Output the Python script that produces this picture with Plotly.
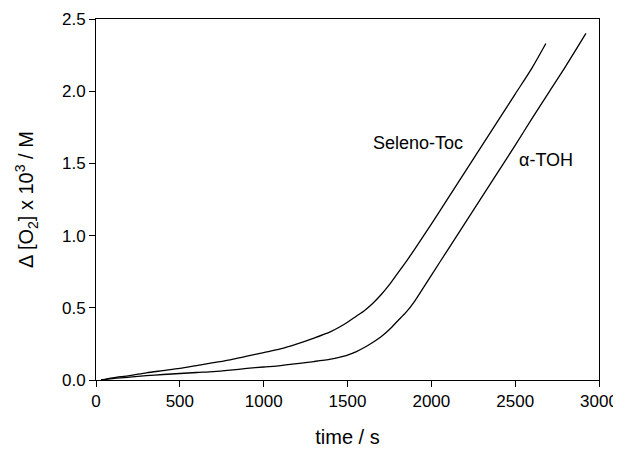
import plotly.graph_objects as go

# oxygen uptake curves
t_seleno = [30, 100, 200, 300, 400, 500, 600, 700, 800, 900, 1000, 1100, 1200, 1300,
            1400, 1450, 1500, 1550, 1600, 1650, 1700, 1750, 1800, 1850, 1900, 2000,
            2100, 2200, 2300, 2400, 2500, 2600, 2683]
o2_seleno = [0.0, 0.015, 0.03, 0.05, 0.065, 0.08, 0.1, 0.12, 0.14, 0.165, 0.19, 0.215, 0.25, 0.29,
             0.335, 0.365, 0.40, 0.44, 0.48, 0.53, 0.59, 0.66, 0.74, 0.82, 0.905, 1.08,
             1.26, 1.44, 1.62, 1.80, 1.98, 2.16, 2.33]

t_toh = [30, 100, 200, 300, 400, 500, 600, 700, 800, 900, 1000, 1100, 1200, 1300, 1400,
         1450, 1500, 1550, 1600, 1650, 1700, 1750, 1800, 1850, 1900, 1950, 2000,
         2100, 2200, 2300, 2400, 2500, 2600, 2700, 2800, 2922]
o2_toh = [0.0, 0.01, 0.02, 0.03, 0.038, 0.045, 0.052, 0.058, 0.068, 0.08, 0.09, 0.1, 0.113, 0.128, 0.145,
          0.157, 0.172, 0.195, 0.225, 0.26, 0.30, 0.35, 0.41, 0.47, 0.545, 0.635, 0.725,
          0.905, 1.085, 1.265, 1.445, 1.625, 1.81, 1.99, 2.17, 2.40]

fnt = "Liberation Sans, Arial, sans-serif"

fig = go.Figure()
fig.add_trace(go.Scatter(x=t_seleno, y=o2_seleno, mode="lines",
                         line=dict(color="black", width=1.3, shape="spline", smoothing=0.8)))
fig.add_trace(go.Scatter(x=t_toh, y=o2_toh, mode="lines",
                         line=dict(color="black", width=1.3, shape="spline", smoothing=0.8)))

fig.add_annotation(x=1923, y=1.64, text="Seleno-Toc", showarrow=False,
                   font=dict(family=fnt, size=18, color="black"))
fig.add_annotation(x=2686, y=1.525, text="α-TOH", showarrow=False,
                   font=dict(family=fnt, size=18, color="black"))

# page body adds 8px around the figure, so size/margins are trimmed to match
fig.update_layout(
    width=613, height=445,
    margin=dict(l=88, r=22, t=11, b=73),
    plot_bgcolor="white", paper_bgcolor="white",
    showlegend=False,
    font=dict(family=fnt, size=17, color="black"),
)
fig.update_xaxes(
    range=[0, 3000], tickvals=[0, 500, 1000, 1500, 2000, 2500, 3000],
    ticks="outside", ticklen=6, tickcolor="black", showgrid=False, zeroline=False,
    showline=True, linecolor="black", linewidth=1, mirror=True, automargin=False,
    tickfont=dict(size=17), ticklabeloverflow="allow",
    title=dict(text="time / s", font=dict(size=20), standoff=19),
)
fig.update_yaxes(
    range=[0, 2.5], tickvals=[0, 0.5, 1.0, 1.5, 2.0, 2.5], tickformat=".1f",
    ticks="outside", ticklen=6, tickcolor="black", showgrid=False, zeroline=False,
    showline=True, linecolor="black", linewidth=1, mirror=True, automargin=False,
    tickfont=dict(size=17), ticklabeloverflow="allow",
    title=dict(text="Δ [O<sub>2</sub>] x 10<sup>3</sup> / M", font=dict(size=20), standoff=22),
)

fig.write_html("out.html")
